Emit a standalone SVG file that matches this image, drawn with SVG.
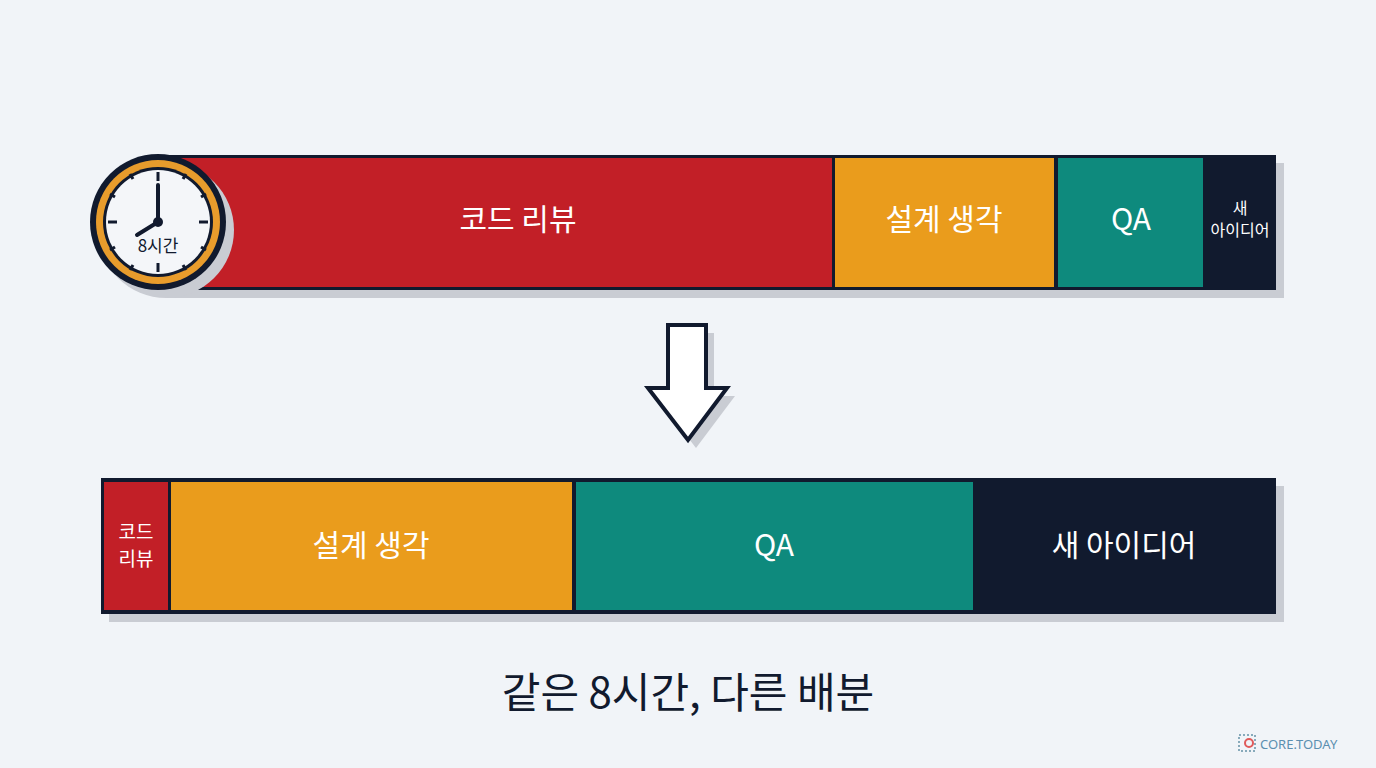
<svg xmlns="http://www.w3.org/2000/svg" width="1376" height="768" viewBox="0 0 1376 768">
<style>
.t{font-family:"Noto Sans CJK KR","Noto Sans",sans-serif;fill:#fff;text-anchor:middle}
.sh{fill:#c9ccd3}
.bd{stroke:#111a2e;stroke-width:4}
</style>
<rect width="1376" height="768" fill="#f1f4f8"/>
<g id="top-bar">
<rect class="sh" x="166" y="163" width="1118" height="135"/>
<rect x="158" y="155" width="1118" height="135" fill="#111a2e"/>
<rect x="160" y="158" width="672" height="129" fill="#c21f27"/>
<rect x="835" y="158" width="219" height="129" fill="#ea9c1c"/>
<rect x="1058" y="158" width="145" height="129" fill="#0e8a7d"/>
<text class="t" x="518" y="230" font-size="30">코드 리뷰</text>
<text class="t" x="944" y="230" font-size="30">설계 생각</text>
<text class="t" x="1131" y="230" font-size="30">QA</text>
<text class="t" x="1240" y="214" font-size="16">새</text>
<text class="t" x="1240" y="236" font-size="16">아이디어</text>
</g>
<g id="clock">
<circle cx="166" cy="230" r="68" fill="#c9ccd3"/>
<circle cx="158" cy="222" r="68" fill="#111a2e"/>
<circle cx="158" cy="222" r="62" fill="#e89c2c"/>
<circle cx="158" cy="222" r="55" fill="#111a2e"/>
<circle cx="158" cy="222" r="52" fill="#f4f6f9"/>
<g stroke="#111a2e" stroke-width="3">
<line x1="158" y1="172" x2="158" y2="181"/><line x1="158" y1="263" x2="158" y2="272"/>
<line x1="108" y1="222" x2="117" y2="222"/><line x1="199" y1="222" x2="208" y2="222"/>
<line x1="183" y1="179" x2="186" y2="174"/><line x1="201" y1="197" x2="206" y2="194"/>
<line x1="201" y1="247" x2="206" y2="250"/><line x1="183" y1="265" x2="186" y2="270"/>
<line x1="133" y1="179" x2="130" y2="174"/><line x1="115" y1="197" x2="110" y2="194"/>
<line x1="115" y1="247" x2="110" y2="250"/><line x1="133" y1="265" x2="130" y2="270"/>
</g>
<g stroke="#111a2e" stroke-width="4" stroke-linecap="round">
<line x1="158" y1="222" x2="158" y2="185"/>
<line x1="158" y1="222" x2="137" y2="235"/>
</g>
<circle cx="158" cy="222" r="5" fill="#111a2e"/>
<text class="t" x="158" y="252" font-size="17" style="fill:#111a2e">8시간</text>
</g>
<g id="connectors">
<polygon points="676,333 714,333 714,396 735,396 696,448 656,396 676,396" fill="#c9ccd3"/>
<polygon points="668,325 706,325 706,388 727,388 688,440 648,388 668,388" fill="#fff" stroke="#111a2e" stroke-width="4" stroke-linejoin="miter"/>
</g>
<g id="bottom-bar">
<rect class="sh" x="109" y="486" width="1175" height="136"/>
<rect x="101" y="478" width="1175" height="136" fill="#111a2e"/>
<rect x="104" y="482" width="64" height="128" fill="#c21f27"/>
<rect x="171" y="482" width="401" height="128" fill="#ea9c1c"/>
<rect x="576" y="482" width="397" height="128" fill="#0e8a7d"/>
<text class="t" x="136" y="539" font-size="19">코드</text>
<text class="t" x="136" y="566" font-size="19">리뷰</text>
<text class="t" x="371" y="556" font-size="30">설계 생각</text>
<text class="t" x="774" y="556" font-size="30">QA</text>
<text class="t" x="1124" y="556" font-size="30">새 아이디어</text>
</g>
<text class="t" x="688" y="708" font-size="42" style="fill:#111a2e">같은 8시간, 다른 배분</text>
<g id="logo">
<rect x="1239" y="735" width="16" height="16" fill="none" stroke="#8ab" stroke-width="2" stroke-dasharray="2 2"/>
<circle cx="1249" cy="743" r="4" fill="none" stroke="#e05a5a" stroke-width="2"/>
<text x="1260" y="749" font-family="Noto Sans,sans-serif" font-size="13" fill="#5b8fb0">CORE.TODAY</text>
</g>
</svg>
